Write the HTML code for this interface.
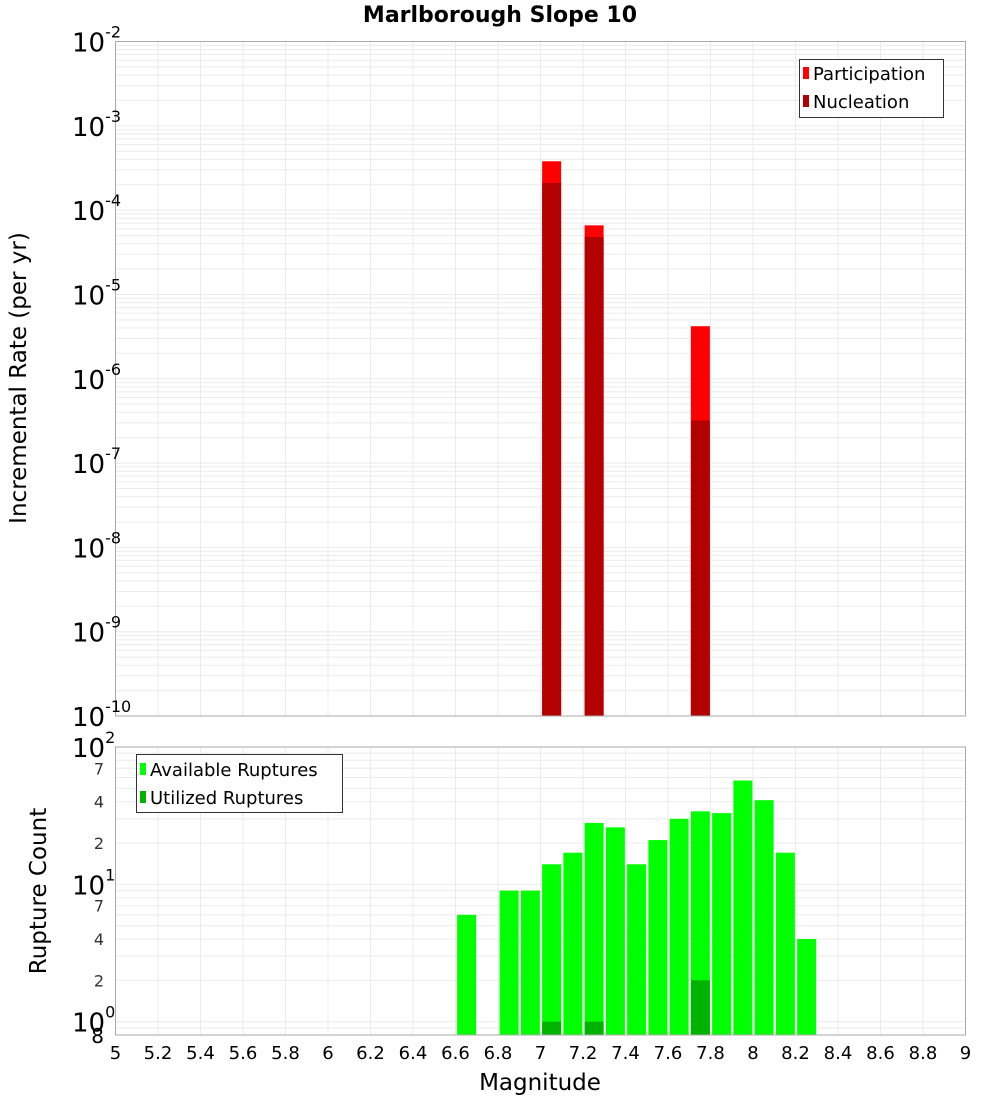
<!DOCTYPE html>
<html><head><meta charset="utf-8"><style>
body{margin:0;background:#fff;}
svg{display:block;font-family:"Liberation Sans","DejaVu Sans",sans-serif;}
</style></head><body>
<svg id="chart" width="1000" height="1100" xmlns="http://www.w3.org/2000/svg">
<text x="500" y="22" text-anchor="middle" font-size="22" font-weight="bold" font-family="DejaVu Sans, sans-serif">Marlborough Slope 10</text>
<g id="topPlot"></g>
<g id="botPlot"></g>
<text transform="translate(26,378) rotate(-90)" text-anchor="middle" font-size="23" font-family="DejaVu Sans, sans-serif">Incremental Rate (per yr)</text>
<text transform="translate(46,891) rotate(-90)" text-anchor="middle" font-size="23" font-family="DejaVu Sans, sans-serif">Rupture Count</text>
<text x="540" y="1090" text-anchor="middle" font-size="23" font-family="DejaVu Sans, sans-serif">Magnitude</text>
</svg>
<script>
const rateMags = [7.05, 7.25, 7.75];
const participation = [3.8e-4, 6.6e-5, 4.2e-6];
const nucleation = [2.1e-4, 4.8e-5, 3.2e-7];
const countMags = [6.65, 6.85, 6.95, 7.05, 7.15, 7.25, 7.35, 7.45, 7.55, 7.65, 7.75, 7.85, 7.95, 8.05, 8.15, 8.25];
const available = [6, 9, 9, 14, 17, 28, 26, 14, 21, 30, 34, 33, 57, 41, 17, 4];
const utilMags = [7.05, 7.25, 7.75];
const utilized = [1, 1, 2];
const xTicks = [5,5.2,5.4,5.6,5.8,6,6.2,6.4,6.6,6.8,7,7.2,7.4,7.6,7.8,8,8.2,8.4,8.6,8.8,9];
const topDecades = [-2,-3,-4,-5,-6,-7,-8,-9,-10];
const botDecades = [2,1,0];
const botMinorLabels = [7,4,2];

const NS="http://www.w3.org/2000/svg";
const L=115.5,R=965.5;
const X=m=>L+(m-5)/4*(R-L);
const T0=41.5,T1=716;
const Yt=v=>T0+(-2-Math.log10(v))/8*(T1-T0);
const B0=747,B1=1035,BMAX=2,BMIN=Math.log10(0.8);
const Yb=v=>B0+(BMAX-Math.log10(v))/(BMAX-BMIN)*(B1-B0);
function mk(p,tag,a,txt){const e=document.createElementNS(NS,tag);for(const k in a)e.setAttribute(k,a[k]);if(txt!==undefined)e.textContent=txt;p.appendChild(e);return e;}
const topG=document.getElementById('topPlot'),botG=document.getElementById('botPlot');

for(let d=-10;d<-2;d++){for(let k=1;k<10;k++){const y=Yt(k*Math.pow(10,d));
 const g=mk(topG,'line',{x1:L,x2:R,y1:y,y2:y,stroke:'#ebebeb','stroke-width':1});
 
 }}
for(const t of xTicks){for(const [p,y0,y1] of [[topG,T0,T1],[botG,B0,B1]]){
 const g=mk(p,'line',{x1:X(t),x2:X(t),y1:y0,y2:y1,stroke:'#ebebeb','stroke-width':1});
 
 }}
rateMags.forEach((m,i)=>{
 const w=19,x=X(m)-w/2+0.5;
 const a=mk(topG,'rect',{x:x,y:Yt(participation[i]),width:w,height:T1-Yt(participation[i]),fill:'#ff0000'});
 
 
 const b=mk(topG,'rect',{x:x,y:Yt(nucleation[i]),width:w,height:T1-Yt(nucleation[i]),fill:'#b30000'});
 
 
});
mk(topG,'rect',{x:L,y:T0,width:R-L,height:T1-T0,fill:'none',stroke:'#aaa','stroke-width':1});
topDecades.forEach(d=>{const y=Yt(Math.pow(10,d));
 const t=mk(topG,'text',{x:72,y:y+10,'font-size':26,'font-family':'DejaVu Sans, sans-serif'});
 
 
 t.textContent='10';
 mk(t,'tspan',{dy:-14,'font-size':16},String(d));});
const lg=mk(topG,'g',{});


mk(lg,'rect',{x:799.5,y:59.5,width:144,height:58,fill:'#fff',stroke:'#333'});
mk(lg,'rect',{x:803,y:67,width:6,height:12,fill:'#ff0000'});
mk(lg,'text',{x:813,y:80,'font-size':18,'font-family':'DejaVu Sans, sans-serif'},'Participation');
mk(lg,'rect',{x:803,y:95,width:6,height:12,fill:'#b30000'});
mk(lg,'text',{x:813,y:108,'font-size':18,'font-family':'DejaVu Sans, sans-serif'},'Nucleation');

for(const v of [0.8,0.9,1,2,3,4,5,6,7,8,9,10,20,30,40,50,60,70,80,90]){const y=Yb(v);
 const g=mk(botG,'line',{x1:L,x2:R,y1:y,y2:y,stroke:'#ebebeb','stroke-width':1});
 
 }
countMags.forEach((m,i)=>{const w=19,x=X(m)-w/2+0.5;
 const r=mk(botG,'rect',{x:x,y:Yb(available[i]),width:w,height:B1-Yb(available[i]),fill:'#00ff00'});
 
 });
utilMags.forEach((m,i)=>{const w=19,x=X(m)-w/2+0.5;
 const r=mk(botG,'rect',{x:x,y:Yb(utilized[i]),width:w,height:B1-Yb(utilized[i]),fill:'#00b300'});
 
 });
mk(botG,'rect',{x:L,y:B0,width:R-L,height:B1-B0,fill:'none',stroke:'#aaa','stroke-width':1});
botDecades.forEach(d=>{const y=Yb(Math.pow(10,d));
 const t=mk(botG,'text',{x:72,y:y+10,'font-size':26,'font-family':'DejaVu Sans, sans-serif'});
 
 
 t.textContent='10';
 mk(t,'tspan',{dy:-14,'font-size':16},String(d));
 if(d>0){botMinorLabels.forEach(k=>{const yy=Yb(k*Math.pow(10,d-1));
  const m=mk(botG,'text',{x:104,y:yy+6,'text-anchor':'end','font-size':16,fill:'#333','font-family':'DejaVu Sans, sans-serif'},String(k));
  
  });}});
{const e=mk(botG,'text',{x:104,y:Yb(0.8)+8,'text-anchor':'end','font-size':20,'font-family':'DejaVu Sans, sans-serif'},'8');
 
 }
xTicks.forEach(t=>{const e=mk(botG,'text',{x:X(t),y:1059,'text-anchor':'middle','font-size':18,'font-family':'DejaVu Sans, sans-serif'},String(t));
 
 });
const bl=mk(botG,'g',{});


mk(bl,'rect',{x:136.5,y:754.5,width:206,height:58,fill:'#fff',stroke:'#333'});
mk(bl,'rect',{x:140,y:763,width:6,height:12,fill:'#00ff00'});
mk(bl,'text',{x:150,y:776,'font-size':18,'font-family':'DejaVu Sans, sans-serif'},'Available Ruptures');
mk(bl,'rect',{x:140,y:791,width:6,height:12,fill:'#00b300'});
mk(bl,'text',{x:150,y:804,'font-size':18,'font-family':'DejaVu Sans, sans-serif'},'Utilized Ruptures');
</script>
</body></html>
